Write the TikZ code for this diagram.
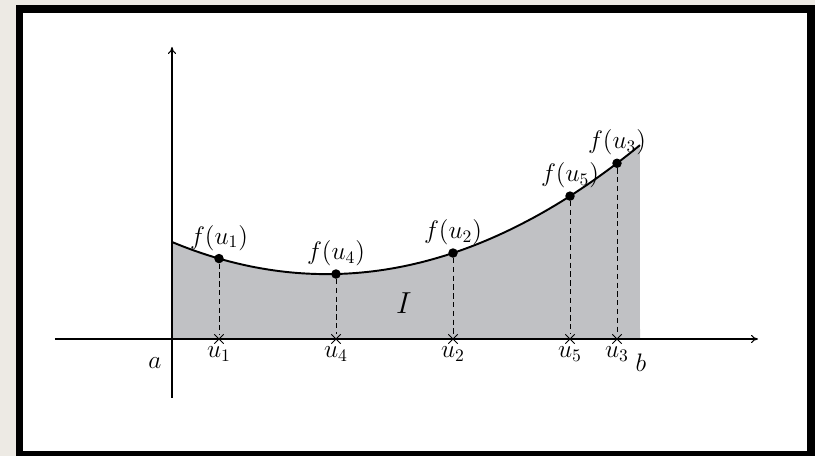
\documentclass[tikz,border=0pt]{standalone}
\usepackage{amsmath}
\usetikzlibrary{arrows.meta, positioning, shapes.misc}
\definecolor{pagebg}{RGB}{237,234,228}
\definecolor{areagray}{RGB}{192,193,196}
\begin{document}
\begin{tikzpicture}[
    font=\fontsize{14}{16}\selectfont,
    declare function={fc(\x)=1.94-0.4164*\x+0.06789*\x*\x-0.000135*\x*\x*\x;},
    axis/.style={line width=0.6pt, -{To[length=1.4mm, width=1.6mm]}},
    curveline/.style={line width=1.1pt},
    ptdot/.style={circle, fill=black, inner sep=0pt, minimum size=0.19cm},
    tickx/.style={cross out, draw, line width=0.5pt, inner sep=0pt, minimum size=0.17cm},
    drop/.style={dash pattern=on 3pt off 2pt, line width=0.55pt},
    ulab/.style={below, inner sep=1.5pt},
    flab/.style={above, inner sep=1.5pt},
]

% ============ page and frame ============
\useasboundingbox (-3.44,-2.34) rectangle (12.86,6.78);
\fill[pagebg] (-3.44,-2.34) rectangle (12.86,6.78);
\fill[black] (-3.12,-2.34) rectangle (12.86,6.68);
\fill[white] (-2.98,-2.24) rectangle (12.70,6.52);

% ============ area under the curve ============
\fill[areagray] (0,0) -- plot[domain=0:9.36, samples=80] (\x,{fc(\x)}) -- (9.36,0) -- cycle;
\draw[curveline] plot[domain=0:9.36, samples=80] (\x,{fc(\x)});

% axes
\coordinate (xl) at (-2.34,0);
\coordinate (xr) at (11.72,0);
\coordinate (yb) at (0,-1.18);
\coordinate (yt) at (0,5.84);
\draw[axis] (xl) -- (xr);
\draw[axis] (yb) -- (yt);

% ============ sample points ============
\foreach \n/\x in {1/0.94, 4/3.28, 2/5.62, 5/7.96, 3/8.90} {
  \node[ptdot] (d\n) at (\x,{fc(\x)}) {};
  \node[tickx] (t\n) at (\x,0) {};
  \draw[drop] (d\n) -- (t\n);
  \node[ulab] (u\n) at (t\n.south) {$u_\n$};
  \node[flab] (f\n) at (d\n.north) {$f(u_\n)$};
}

\node (alab) at (-0.34,-0.48) {$a$};
\node (blab) at (9.38,-0.48) {$b$};
\node[font=\fontsize{17}{19}\selectfont] (ilab) at (4.64,0.72) {$I$};

\end{tikzpicture}
\end{document}
